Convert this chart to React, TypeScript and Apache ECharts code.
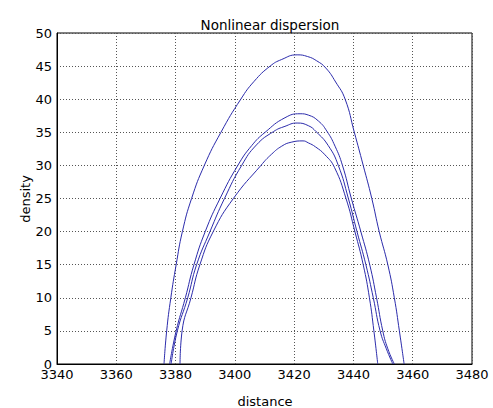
import React, { useEffect, useRef } from "react";
import * as echarts from "echarts";

const titleText = "Nonlinear dispersion";
const xName = "distance";
const yName = "density";
const xMin = 3340;
const xMax = 3480;
const xStep = 20;
const yMin = 0;
const yMax = 50;
const yStep = 5;

// [distance, density]
const curveA: [number, number][] = [
  [3376.1, 0], [3377, 5], [3378.4, 10], [3380.2, 15], [3382.3, 20], [3385.4, 25],
  [3389.7, 30], [3395.3, 35], [3402, 40], [3406.5, 42.7], [3411.9, 45], [3415.8, 46],
  [3421, 46.7], [3424.5, 46.45], [3427.6, 45.8], [3430.7, 44.7], [3434, 42.6], [3437.2, 40],
  [3440.3, 35], [3443.3, 30], [3446.2, 25], [3448.7, 20], [3451.6, 15], [3453.8, 10],
  [3455.5, 5], [3457.1, 0],
];
const curveB: [number, number][] = [
  [3378, 0], [3380.2, 5], [3383.3, 10], [3386.2, 15], [3390, 20], [3395, 25],
  [3401, 30], [3405.7, 33], [3410.2, 35], [3416.9, 37.2], [3422, 37.8], [3424.8, 37.6],
  [3428.2, 36.7], [3431, 35.2], [3433.8, 32.9], [3436.3, 30], [3439.3, 25], [3442.5, 20],
  [3445.5, 15], [3447.8, 10], [3449.9, 5], [3451.6, 2.3], [3453.8, 0],
];
const curveC: [number, number][] = [
  [3378.5, 0], [3380.6, 5], [3384.1, 10], [3387.1, 15], [3391.6, 20], [3396.5, 25],
  [3402.3, 30], [3407.3, 33.1], [3413, 35.1], [3416.9, 35.9], [3421, 36.4], [3424.8, 36],
  [3427.4, 35.1], [3431.5, 33], [3434.9, 30], [3438.3, 25], [3441.2, 20], [3444.2, 15],
  [3446.7, 10], [3449, 5], [3451.1, 2.3], [3453.3, 0],
];
const curveD: [number, number][] = [
  [3381.5, 0], [3382.2, 5], [3385.2, 10], [3388.2, 15], [3392.7, 20], [3399.5, 25],
  [3408.8, 30], [3412.4, 31.7], [3415.8, 32.9], [3419, 33.5], [3423, 33.7], [3424.8, 33.4],
  [3427.2, 32.8], [3430.4, 31.6], [3433.6, 29.7], [3437.5, 25], [3440.5, 20], [3443.3, 15],
  [3445.4, 10], [3446.9, 5], [3448.2, 0],
];
const curves = [curveA, curveB, curveC, curveD];

const FONT = "DejaVu Sans";
const LINE = "#2b2bab";

export default function App() {
  const ref = useRef<HTMLDivElement>(null);
  useEffect(() => {
    if (!ref.current) return;
    const chart = echarts.init(ref.current, undefined, { renderer: "svg" });
    chart.setOption({
      animation: false,
      backgroundColor: "#ffffff",
      title: {
        text: titleText,
        left: 265,
        top: 13,
        textAlign: "center",
        textStyle: { fontFamily: FONT, fontSize: 13.5, fontWeight: "normal", color: "#000" },
      },
      graphic: [
        {
          type: "text",
          x: 265,
          y: 401,
          style: {
            text: xName,
            fontFamily: FONT,
            fontSize: 13,
            fill: "#000",
            textAlign: "center",
            textVerticalAlign: "middle",
          },
        },
        {
          type: "text",
          x: 25,
          y: 199,
          rotation: Math.PI / 2,
          style: {
            text: yName,
            fontFamily: FONT,
            fontSize: 13,
            fill: "#000",
            textAlign: "center",
            textVerticalAlign: "middle",
          },
        },
      ],
      grid: {
        left: 57,
        right: 21,
        top: 33,
        bottom: 44,
        show: true,
        borderColor: "#000",
        borderWidth: 1,
        backgroundColor: "#fff",
      },
      xAxis: {
        type: "value",
        min: xMin,
        max: xMax,
        interval: xStep,
        axisLine: { show: true, lineStyle: { color: "#000", width: 1 } },
        axisTick: { show: false },
        axisLabel: {
          fontFamily: FONT,
          fontSize: 13,
          color: "#000",
          margin: 4,
          formatter: (v: number) => String(v),
        },
        splitLine: { show: true, lineStyle: { color: "#555", type: [1, 2], width: 1 } },
      },
      yAxis: {
        type: "value",
        min: yMin,
        max: yMax,
        interval: yStep,
        axisLine: { show: true, lineStyle: { color: "#000", width: 1 } },
        axisTick: { show: false },
        axisLabel: { fontFamily: FONT, fontSize: 13, color: "#000", margin: 5 },
        splitLine: { show: true, lineStyle: { color: "#555", type: [1, 2], width: 1 } },
      },
      series: curves.map((c) => ({
        type: "line",
        data: c,
        showSymbol: false,
        smooth: 0.5,
        lineStyle: { color: LINE, width: 1 },
        itemStyle: { color: LINE },
        z: 3,
      })),
    });
    return () => chart.dispose();
  }, []);
  return (
    <div
      ref={ref}
      style={{ position: "absolute", left: 0, top: 0, width: 493, height: 408, background: "#fff" }}
    />
  );
}
